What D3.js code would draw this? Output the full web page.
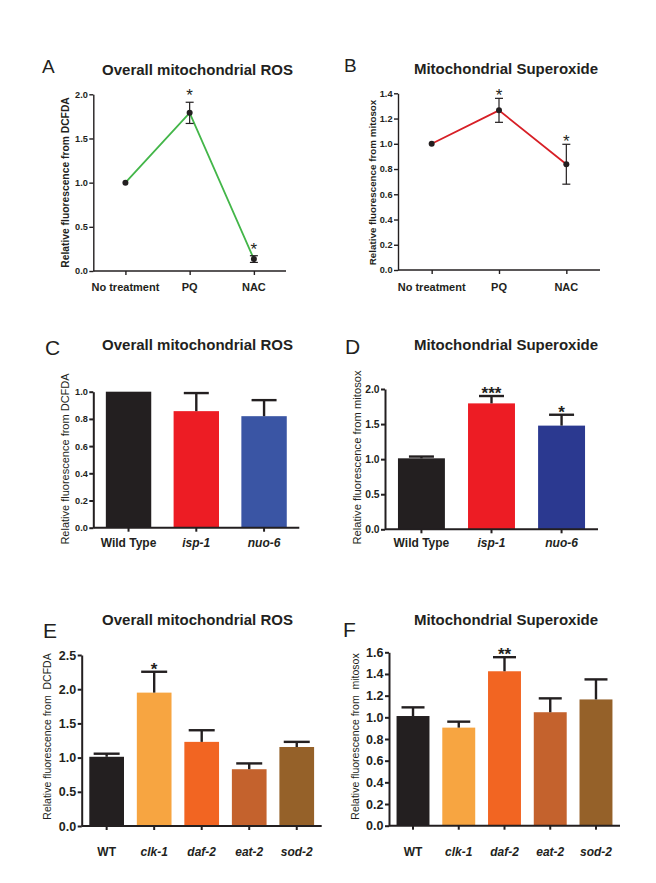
<!DOCTYPE html>
<html><head><meta charset="utf-8">
<script src="https://cdn.jsdelivr.net/npm/d3@7"></script>
<style>
body{margin:0;background:#fff}
svg text{font-family:Arial,"Liberation Sans",Helvetica,sans-serif;fill:#231f20}
</style>
</head><body>
<svg id="fig" width="656" height="883"></svg>
<script>
// ---------- DATA ----------
const treatmentCategories = ["No treatment", "PQ", "NAC"];
const aMeans = [1.0, 1.79, 0.135];
const aErrors = [0, 0.12, 0.038];
const aSig = ["", "*", "*"];
const aTicks = [0, 0.5, 1.0, 1.5, 2.0];

const bMeans = [1.0, 1.265, 0.838];
const bErrors = [0, 0.095, 0.158];
const bSig = ["", "*", "*"];
const bTicks = [0, 0.2, 0.4, 0.6, 0.8, 1.0, 1.2, 1.4];

const mutantCategories = ["Wild Type", "isp-1", "nuo-6"];
const cMeans = [1.0, 0.857, 0.82];
const cErrors = [0, 0.133, 0.118];
const cSig = ["", "", ""];
const cTicks = [0, 0.2, 0.4, 0.6, 0.8, 1.0];

const dMeans = [1.012, 1.795, 1.478];
const dErrors = [0.025, 0.105, 0.155];
const dSig = ["", "***", "*"];
const dTicks = [0, 0.5, 1.0, 1.5, 2.0];

const longevityCategories = ["WT", "clk-1", "daf-2", "eat-2", "sod-2"];
const eMeans = [1.012, 1.95, 1.23, 0.83, 1.155];
const eErrors = [0.045, 0.305, 0.17, 0.085, 0.075];
const eSig = ["", "*", "", "", ""];
const eTicks = [0, 0.5, 1.0, 1.5, 2.0, 2.5];

const fMeans = [1.012, 0.905, 1.425, 1.047, 1.165];
const fErrors = [0.08, 0.055, 0.13, 0.128, 0.185];
const fSig = ["", "", "**", "", ""];
const fTicks = [0, 0.2, 0.4, 0.6, 0.8, 1.0, 1.2, 1.4, 1.6];

// ---------- DRAWING ----------
const svg = d3.select("#fig");
const fmt = d3.format(".1f");
const INK = "#231f20";

function header(letter, lx, ly, lsize, title, tx, ty) {
  svg.append("text").attr("x", lx).attr("y", ly).attr("font-size", lsize).text(letter);
  svg.append("text").attr("x", tx).attr("y", ty).attr("text-anchor", "middle")
    .attr("font-size", 15).attr("font-weight", "bold").text(title);
}

function yAxisDraw(g, y, o) {
  const ax = d3.axisLeft(y).tickValues(o.ticks).tickFormat(fmt)
    .tickSize(o.tick).tickSizeOuter(0).tickPadding(1.5);
  const ga = g.append("g").attr("transform", `translate(${o.left},0)`).call(ax);
  ga.select(".domain").attr("stroke", INK).attr("stroke-width", o.sw);
  ga.selectAll(".tick line").attr("stroke", INK).attr("stroke-width", o.sw);
  ga.selectAll(".tick text").attr("font-size", o.tickFont).attr("font-weight", "bold")
    .attr("font-family", "Arial, 'Liberation Sans', sans-serif").attr("fill", INK);
}

function xAxisDraw(g, x, o) {
  const ax = d3.axisBottom(x).tickSize(o.tick).tickSizeOuter(0).tickFormat("");
  const ga = g.append("g").attr("transform", `translate(0,${o.bottom})`).call(ax);
  ga.select(".domain").attr("d", `M${o.left},0H${o.right}`)
    .attr("stroke", INK).attr("stroke-width", o.sw);
  ga.selectAll(".tick line").attr("stroke", INK).attr("stroke-width", o.sw);
  g.selectAll(null).data(o.cats).enter().append("text")
    .attr("x", d => x(d) + (x.bandwidth ? x.bandwidth() / 2 : 0))
    .attr("y", o.labelY).attr("text-anchor", "middle")
    .attr("font-size", o.labelFont).attr("font-weight", "bold")
    .attr("font-style", (d, i) => (o.italic && i > 0) ? "italic" : "normal")
    .text(d => d);
}

function yTitle(g, o) {
  g.append("text").attr("transform", `translate(${o.ytx},${o.yty}) rotate(-90)`)
    .attr("text-anchor", "middle").attr("font-size", o.ytFont)
    .attr("font-weight", o.ytBold ? "bold" : "normal")
    .style("white-space", "pre").text(o.ytitle);
}

function linePanel(o) {
  const g = svg.append("g");
  const x = d3.scalePoint().domain(o.cats).range([o.left, o.right]).padding(0.5);
  const y = d3.scaleLinear().domain([0, o.ymax]).range([o.bottom, o.top]);
  yAxisDraw(g, y, o);
  xAxisDraw(g, x, o);
  yTitle(g, o);
  const pts = o.cats.map((c, i) => ({c, v: o.means[i], e: o.errs[i], s: o.sig[i]}));
  g.append("path").datum(pts)
    .attr("d", d3.line().x(d => x(d.c)).y(d => y(d.v)))
    .attr("fill", "none").attr("stroke", o.color).attr("stroke-width", 1.8);
  const eb = g.selectAll(null).data(pts.filter(d => d.e > 0)).enter().append("g");
  eb.append("line").attr("x1", d => x(d.c)).attr("x2", d => x(d.c))
    .attr("y1", d => y(d.v + d.e)).attr("y2", d => y(d.v - d.e))
    .attr("stroke", INK).attr("stroke-width", 1.2);
  [1, -1].forEach(s => {
    eb.append("line").attr("x1", d => x(d.c) - 4).attr("x2", d => x(d.c) + 4)
      .attr("y1", d => y(d.v + s * d.e)).attr("y2", d => y(d.v + s * d.e))
      .attr("stroke", INK).attr("stroke-width", 1.2);
  });
  g.selectAll(null).data(pts).enter().append("circle")
    .attr("cx", d => x(d.c)).attr("cy", d => y(d.v)).attr("r", 3).attr("fill", INK);
  g.selectAll(null).data(pts.filter(d => d.s)).enter().append("text")
    .attr("x", d => x(d.c)).attr("y", d => y(d.v + d.e) + o.sigOff)
    .attr("text-anchor", "middle").attr("font-size", 17).text(d => d.s);
}

function barPanel(o) {
  const g = svg.append("g");
  const x = d3.scaleBand().domain(o.cats).range([o.left, o.right])
    .paddingInner(o.pin).paddingOuter(o.pout);
  const y = d3.scaleLinear().domain([0, o.ymax]).range([o.bottom, o.top]);
  const pts = o.cats.map((c, i) => ({c, v: o.means[i], e: o.errs[i], s: o.sig[i], col: o.colors[i]}));
  g.selectAll(null).data(pts).enter().append("rect")
    .attr("x", d => x(d.c)).attr("width", x.bandwidth())
    .attr("y", d => y(d.v)).attr("height", d => y(0) - y(d.v))
    .attr("fill", d => d.col);
  const eb = g.selectAll(null).data(pts.filter(d => d.e > 0)).enter().append("g");
  const cx = d => x(d.c) + x.bandwidth() / 2;
  eb.append("line").attr("x1", cx).attr("x2", cx)
    .attr("y1", d => y(d.v)).attr("y2", d => y(d.v + d.e))
    .attr("stroke", INK).attr("stroke-width", 2.4);
  eb.append("line").attr("x1", d => cx(d) - o.cap / 2).attr("x2", d => cx(d) + o.cap / 2)
    .attr("y1", d => y(d.v + d.e)).attr("y2", d => y(d.v + d.e))
    .attr("stroke", INK).attr("stroke-width", 2.4);
  g.selectAll(null).data(pts.filter(d => d.s)).enter().append("text")
    .attr("x", cx).attr("y", d => y(d.v + d.e) + 3)
    .attr("text-anchor", "middle").attr("font-size", 17).attr("font-weight", "bold").text(d => d.s);
  yAxisDraw(g, y, o);
  xAxisDraw(g, x, o);
  yTitle(g, o);
}

// Panel A
header("A", 42, 73, 19, "Overall mitochondrial ROS", 197.5, 75);
linePanel({cats: treatmentCategories, means: aMeans, errs: aErrors, sig: aSig, ticks: aTicks,
  ymax: 2.0, left: 93.3, right: 286, bottom: 271, top: 94.3, color: "#43b649",
  sw: 1.4, tick: 4, tickFont: 9.2, labelFont: 11, labelY: 291, italic: false,
  ytitle: "Relative fluorescence from DCFDA", ytx: 68.7, yty: 182.5, ytFont: 10.3, ytBold: true,
  sigOff: -1});

// Panel B
header("B", 344, 72, 19, "Mitochondrial Superoxide", 506, 74);
linePanel({cats: treatmentCategories, means: bMeans, errs: bErrors, sig: bSig, ticks: bTicks,
  ymax: 1.4, left: 398, right: 600, bottom: 270, top: 93.3, color: "#d71f26",
  sw: 1.4, tick: 4, tickFont: 9.2, labelFont: 11, labelY: 291, italic: false,
  ytitle: "Relative fluorescence from mitosox", ytx: 375.6, yty: 182.5, ytFont: 9.8, ytBold: true,
  sigOff: 3});

// Panel C
header("C", 45, 355, 21, "Overall mitochondrial ROS", 197.5, 350);
barPanel({cats: mutantCategories, means: cMeans, errs: cErrors, sig: cSig, ticks: cTicks,
  colors: ["#231f20", "#ed1c24", "#3a55a4"], pin: 0.33, pout: 0.185, cap: 25,
  ymax: 1.0, left: 93.3, right: 299.3, bottom: 527.7, top: 391.7,
  sw: 2, tick: 4, tickFont: 9.2, labelFont: 12, labelY: 547, italic: true,
  ytitle: "Relative fluorescence from DCFDA", ytx: 69, yty: 459, ytFont: 11, ytBold: false});

// Panel D
header("D", 345, 354, 21, "Mitochondrial Superoxide", 506, 350);
barPanel({cats: mutantCategories, means: dMeans, errs: dErrors, sig: dSig, ticks: dTicks,
  colors: ["#231f20", "#ed1c24", "#2b3990"], pin: 0.33, pout: 0.185, cap: 25,
  ymax: 2.0, left: 385, right: 598, bottom: 529.3, top: 389,
  sw: 2, tick: 4, tickFont: 10.3, labelFont: 12, labelY: 547, italic: true,
  ytitle: "Relative fluorescence from mitosox", ytx: 360.7, yty: 457.5, ytFont: 11.2, ytBold: false});

// Panel E
header("E", 43, 638, 21, "Overall mitochondrial ROS", 197.5, 625);
barPanel({cats: longevityCategories, means: eMeans, errs: eErrors, sig: eSig, ticks: eTicks,
  colors: ["#231f20", "#f7a541", "#f26522", "#c4622d", "#956129"], pin: 0.27, pout: 0.16, cap: 26,
  ymax: 2.5, left: 81.7, right: 321.7, bottom: 826, top: 655,
  sw: 2, tick: 4, tickFont: 12.5, labelFont: 12, labelY: 856, italic: true,
  ytitle: "Relative fluorescence from  DCFDA", ytx: 50.5, yty: 736.5, ytFont: 10.5, ytBold: false});

// Panel F
header("F", 343, 637, 21, "Mitochondrial Superoxide", 506, 625);
barPanel({cats: longevityCategories, means: fMeans, errs: fErrors, sig: fSig, ticks: fTicks,
  colors: ["#231f20", "#f7a541", "#f26522", "#c4622d", "#956129"], pin: 0.28, pout: 0.165, cap: 23,
  ymax: 1.6, left: 389, right: 620, bottom: 825.7, top: 652.3,
  sw: 2, tick: 4, tickFont: 12.5, labelFont: 12, labelY: 856, italic: true,
  ytitle: "Relative fluorescence from  mitosox", ytx: 358.8, yty: 736.5, ytFont: 10.5, ytBold: false});
</script>
</body></html>
